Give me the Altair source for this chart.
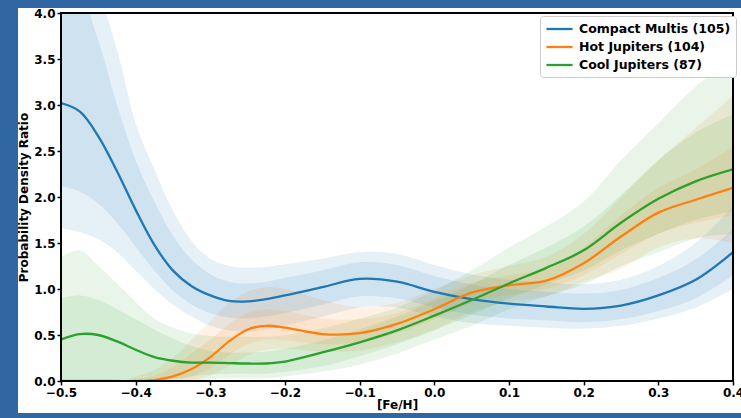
import altair as alt
import pandas as pd

# ---- data ----
feh = [-0.5, -0.475, -0.45, -0.425, -0.4, -0.375, -0.35, -0.325, -0.3, -0.275, -0.25,
       -0.225, -0.2, -0.15, -0.1, -0.05, 0.0, 0.05, 0.1, 0.15, 0.2, 0.25, 0.3, 0.35, 0.4]

series_names = ["Compact Multis (105)", "Hot Jupiters (104)", "Cool Jupiters (87)"]
series_colors = ["#1f77b4", "#ff7f0e", "#2ca02c"]

cm_line = [3.02, 2.93, 2.66, 2.28, 1.86, 1.48, 1.2, 1.03, 0.93, 0.87, 0.865, 0.89, 0.93,
           1.02, 1.11, 1.08, 0.97, 0.89, 0.84, 0.81, 0.785, 0.82, 0.93, 1.1, 1.4]
cm_in_lo = [2.12, 2.06, 1.93, 1.72, 1.46, 1.2, 0.98, 0.83, 0.74, 0.69, 0.68, 0.7, 0.74,
            0.83, 0.92, 0.9, 0.8, 0.72, 0.68, 0.66, 0.64, 0.67, 0.76, 0.9, 1.15]
cm_in_hi = [4.3, 4.2, 3.7, 3.0, 2.4, 1.95, 1.58, 1.32, 1.16, 1.08, 1.06, 1.08, 1.12,
            1.2, 1.29, 1.26, 1.14, 1.05, 1.0, 0.97, 0.95, 0.99, 1.12, 1.32, 1.65]
cm_out_lo = [1.66, 1.62, 1.54, 1.4, 1.2, 1.0, 0.83, 0.7, 0.6, 0.55, 0.54, 0.56, 0.6,
             0.7, 0.8, 0.8, 0.7, 0.63, 0.6, 0.58, 0.57, 0.6, 0.68, 0.8, 1.0]
cm_out_hi = [4.6, 4.5, 4.2, 3.6, 2.8, 2.3, 1.85, 1.52, 1.33, 1.25, 1.23, 1.24, 1.27,
             1.33, 1.4, 1.38, 1.26, 1.16, 1.1, 1.07, 1.05, 1.1, 1.25, 1.5, 1.9]

hj_line = [0.0, 0.0, 0.0, 0.0, 0.0, 0.01, 0.05, 0.13, 0.26, 0.43, 0.56, 0.6, 0.58,
           0.51, 0.52, 0.62, 0.78, 0.96, 1.04, 1.09, 1.28, 1.57, 1.83, 1.97, 2.1]
hj_in_lo = [0.0, 0.0, 0.0, 0.0, 0.0, 0.0, 0.01, 0.05, 0.14, 0.28, 0.4, 0.45, 0.44,
            0.4, 0.42, 0.52, 0.67, 0.85, 0.94, 1.0, 1.15, 1.38, 1.6, 1.72, 1.8]
hj_in_hi = [0.0, 0.0, 0.0, 0.0, 0.02, 0.06, 0.15, 0.3, 0.45, 0.62, 0.74, 0.78, 0.76,
            0.68, 0.67, 0.74, 0.9, 1.07, 1.15, 1.22, 1.45, 1.8, 2.1, 2.3, 2.55]
hj_out_lo = [0.0, 0.0, 0.0, 0.0, 0.0, 0.0, 0.0, 0.01, 0.06, 0.16, 0.28, 0.34, 0.35,
             0.32, 0.33, 0.42, 0.56, 0.75, 0.86, 0.92, 1.08, 1.22, 1.45, 1.55, 1.5]
hj_out_hi = [0.0, 0.0, 0.0, 0.0, 0.05, 0.12, 0.25, 0.45, 0.65, 0.85, 0.97, 1.02, 1.0,
             0.88, 0.8, 0.85, 1.0, 1.15, 1.25, 1.35, 1.6, 2.0, 2.4, 2.75, 3.1]

cj_line = [0.45, 0.51, 0.5, 0.43, 0.34, 0.26, 0.22, 0.2, 0.2, 0.195, 0.19, 0.19, 0.21,
           0.31, 0.42, 0.55, 0.71, 0.88, 1.06, 1.23, 1.42, 1.72, 1.98, 2.17, 2.3]
cj_in_lo = [0.0, 0.0, 0.0, 0.0, 0.0, 0.0, 0.02, 0.05, 0.07, 0.08, 0.08, 0.08, 0.1,
            0.16, 0.27, 0.4, 0.55, 0.72, 0.9, 1.05, 1.2, 1.42, 1.6, 1.75, 1.85]
cj_in_hi = [0.9, 0.93, 0.88, 0.78, 0.67, 0.56, 0.46, 0.38, 0.33, 0.31, 0.31, 0.32, 0.35,
            0.44, 0.56, 0.7, 0.87, 1.05, 1.26, 1.45, 1.68, 2.02, 2.4, 2.7, 2.9]
cj_out_lo = [0.0, 0.0, 0.0, 0.0, 0.0, 0.0, 0.0, 0.0, 0.02, 0.03, 0.03, 0.03, 0.05,
             0.1, 0.18, 0.3, 0.45, 0.6, 0.78, 0.92, 1.05, 1.25, 1.4, 1.55, 1.6]
cj_out_hi = [1.35, 1.42, 1.25, 1.06, 0.86, 0.68, 0.58, 0.52, 0.49, 0.48, 0.48, 0.48, 0.5,
             0.57, 0.68, 0.8, 0.98, 1.2, 1.45, 1.68, 1.95, 2.4, 2.8, 3.2, 3.5]

y_ticks = [0.0, 0.5, 1.0, 1.5, 2.0, 2.5, 3.0, 3.5, 4.0]
x_ticks = [-0.5, -0.4, -0.3, -0.2, -0.1, 0.0, 0.1, 0.2, 0.3, 0.4]

# ---- build table ----
frames = []
for name, ln, ilo, ihi, olo, ohi in [
    (series_names[0], cm_line, cm_in_lo, cm_in_hi, cm_out_lo, cm_out_hi),
    (series_names[1], hj_line, hj_in_lo, hj_in_hi, hj_out_lo, hj_out_hi),
    (series_names[2], cj_line, cj_in_lo, cj_in_hi, cj_out_lo, cj_out_hi),
]:
    frames.append(pd.DataFrame({"feh": feh, "series": name, "line": ln,
                                "in_lo": ilo, "in_hi": ihi, "out_lo": olo, "out_hi": ohi}))
df = pd.concat(frames, ignore_index=True)

W, H = 672, 368
INTERP = "catmull-rom"
SLIDE_BLUE = "#3066a2"

xs = alt.Scale(domain=[-0.5, 0.4], nice=False, zero=False)
ys = alt.Scale(domain=[0, 4], nice=False)
cs = alt.Scale(domain=series_names, range=series_colors)

legend = alt.Legend(title=None, orient="none", legendX=479, legendY=3,
                    symbolType="M-1,0H3", symbolStrokeWidth=2.3, symbolSize=170,
                    symbolOpacity=1,
                    labelFontSize=12.5, labelFontWeight="bold", labelFont="DejaVu Sans",
                    labelColor="black", fillColor="white", strokeColor="#cccccc",
                    padding=5, cornerRadius=3, rowPadding=3, labelOffset=18)
color_enc = alt.Color("series:N", scale=cs, sort=series_names, legend=legend)

x_enc = alt.X("feh:Q", scale=xs,
              axis=alt.Axis(values=x_ticks, format=".1f", title="[Fe/H]"))

base = alt.Chart(df)

outer = base.mark_area(opacity=0.11, clip=True, interpolate=INTERP).encode(
    x=x_enc,
    y=alt.Y("out_lo:Q", scale=ys,
            axis=alt.Axis(values=y_ticks, format=".1f", title="Probability Density Ratio")),
    y2="out_hi:Q",
    color=color_enc,
    detail="series:N",
)
inner = base.mark_area(opacity=0.11, clip=True, interpolate=INTERP).encode(
    x=x_enc,
    y=alt.Y("in_lo:Q", scale=ys),
    y2="in_hi:Q",
    color=color_enc,
    detail="series:N",
)
lines = base.mark_line(strokeWidth=2.3, clip=True, interpolate=INTERP).encode(
    x=x_enc,
    y=alt.Y("line:Q", scale=ys),
    color=color_enc,
)

# slide border (thick stroke lying outside the white panel)
border = alt.Chart(pd.DataFrame({"k": [0]})).mark_rect(
    fill=None, stroke=SLIDE_BLUE, strokeWidth=40, clip=False
).encode(x=alt.value(-63), x2=alt.value(W + 60), y=alt.value(-25), y2=alt.value(H + 52))

frame = alt.Chart(pd.DataFrame({"k": [0]})).mark_rect(
    fill=None, stroke="black", strokeWidth=2, clip=False
).encode(x=alt.value(0), x2=alt.value(W), y=alt.value(0), y2=alt.value(H))

chart = alt.layer(outer, inner, lines, frame, border).properties(
    width=W, height=H,
    background="white",
    padding={"left": 61, "top": 13, "right": 8, "bottom": 37},
    autosize=alt.AutoSizeParams(type="none"),
).configure_view(stroke=None).configure_axis(
    labelFont="DejaVu Sans", labelFontWeight="bold", labelFontSize=12, labelColor="black",
    titleFont="DejaVu Sans", titleFontWeight="bold", titleFontSize=12, titleColor="black",
    tickColor="black", tickWidth=1.5, tickSize=4, domain=False, grid=False, labelPadding=2,
).configure_axisX(titlePadding=1, labelFlush=False).configure_axisY(titlePadding=3, labelFlush=False)

chart.save("out.html", embed_options={"renderer": "svg", "actions": False})
